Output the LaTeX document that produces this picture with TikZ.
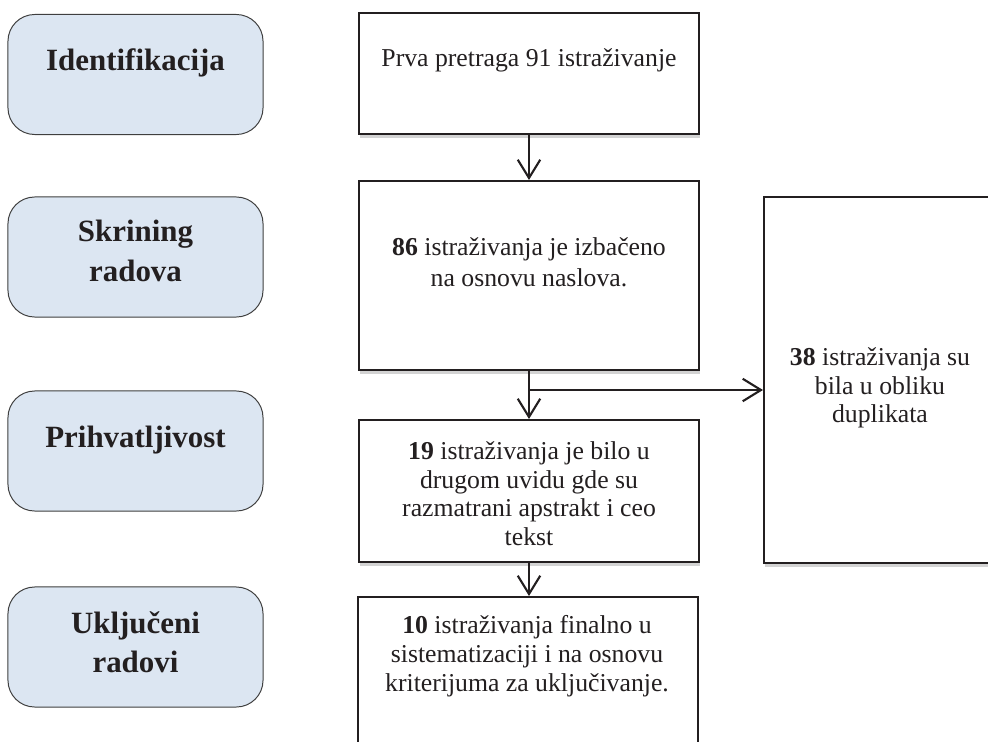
\documentclass[tikz,border=0pt]{standalone}
\usepackage{fontspec}
\setmainfont{Liberation Serif}
\usepackage{xcolor}
\usepackage{tikz}
\usetikzlibrary{arrows.meta, positioning, calc, shadows}
\definecolor{fazafill}{HTML}{DCE6F2}
\definecolor{fazaline}{HTML}{3F3F3F}
\definecolor{tekst}{HTML}{231F20}

\begin{document}
\begin{tikzpicture}[x=0.025cm, y=-0.025cm,
    faza/.style={draw=fazaline, fill=fazafill, line width=0.7pt, rounded corners=19pt,
        minimum width=6.375cm, minimum height=3cm, inner sep=0pt},
    fazatxt/.style={font=\fontsize{22}{28}\selectfont\bfseries, text=tekst, align=center, inner sep=0pt},
    korak/.style={draw=tekst, fill=white, line width=1.4pt, minimum width=8.5cm, inner sep=0pt,
        drop shadow={shadow xshift=1pt, shadow yshift=-2.5pt, opacity=0.35}},
    koraktxt/.style={font=\fontsize{18.3}{20.5}\selectfont, text=tekst, align=center, inner sep=0pt},
    strelica/.style={draw=tekst, line width=1.5pt, -{Straight Barb[length=13pt, width=16pt]}}]
    \useasboundingbox (0,0) rectangle (988,742);

    % faze (lijeva kolona)
    \node[faza] (f1) at (135.5,74.5) {};
    \node[faza] (f2) at (135.5,257) {};
    \node[faza] (f3) at (135.5,451) {};
    \node[faza] (f4) at (135.5,647) {};
    \node[fazatxt, anchor=base] (f1t) at (135.5,71) {Identifikacija};
    \node[fazatxt, anchor=north] (f2t) at (135.5,220) {Skrining\\radova};
    \node[fazatxt, anchor=base] (f3t) at (135.5,447) {Prihvatljivost};
    \node[fazatxt, anchor=north] (f4t) at (135.5,611) {Uključeni\\radovi};

    % koraci (srednja kolona)
    \node[korak, minimum height=3.025cm] (k1) at (529,73.5) {};
    \node[korak, minimum height=4.725cm] (k2) at (529,275.5) {};
    \node[korak, minimum height=3.55cm] (k3) at (529,491) {};
    \node[korak, minimum height=4.075cm] (k4) at (528,678.5) {};
    \node[korak, minimum width=5.8cm, minimum height=9.15cm] (dup) at (880,380) {};

    \node[koraktxt, anchor=base] (k1t) at (529,67) {Prva pretraga 91 istraživanje};
    \node[koraktxt, font=\fontsize{18.3}{22.5}\selectfont, anchor=north] (k2t) at (529,237)
        {\textbf{86} istraživanja je izbačeno\\na osnovu naslova.};
    \node[koraktxt, anchor=north] (k3t) at (529,441)
        {\textbf{19} istraživanja je bilo u\\drugom uvidu gde su\\razmatrani apstrakt i ceo\\tekst};
    \node[koraktxt, anchor=north] (k4t) at (527,615)
        {\textbf{10} istraživanja finalno u\\sistematizaciji i na osnovu\\kriterijuma za uključivanje.};
    \node[koraktxt, anchor=north] (dupt) at (880,347)
        {\textbf{38} istraživanja su\\bila u obliku\\duplikata};

    % strelice
    \coordinate (grana) at ($(k2.south)+(0,19)$);
    \draw[strelica] (k1) -- (k2);
    \draw[strelica] (k2) -- (k3);
    \draw[strelica] (grana) -- (grana -| dup.west);
    \draw[strelica] (k3.south) -- (k3.south |- k4.north);
\end{tikzpicture}
\end{document}
